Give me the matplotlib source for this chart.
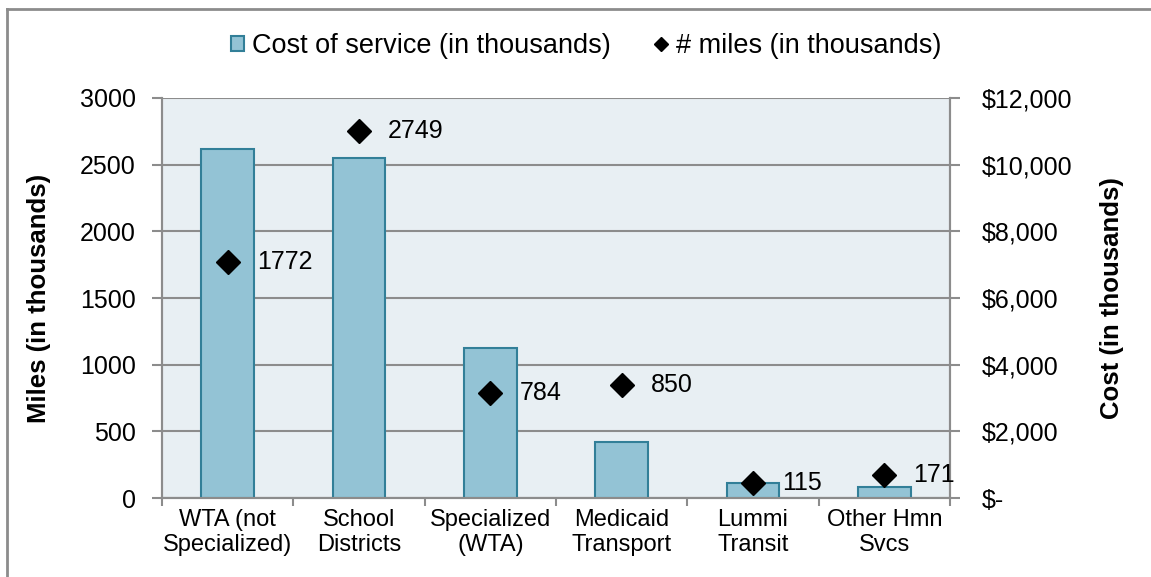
import matplotlib
matplotlib.use("Agg")
import matplotlib.pyplot as plt
from matplotlib.lines import Line2D
from matplotlib.patches import Patch
from matplotlib.ticker import FuncFormatter

plt.rcParams["font.family"] = ["Liberation Sans", "DejaVu Sans"]

categories = ["WTA (not\nSpecialized)", "School\nDistricts", "Specialized\n(WTA)",
              "Medicaid\nTransport", "Lummi\nTransit", "Other Hmn\nSvcs"]
cost_thousands = [10470, 10190, 4500, 1680, 440, 340]
miles_thousands = [1772, 2749, 784, 850, 115, 171]

BAR_FILL = "#93c3d5"
BAR_EDGE = "#327f98"
GRID = "#8c8c8c"
PLOT_BG = "#e8eff3"
FS = 17
NUM_FS = 18

fig = plt.figure(figsize=(11.51, 5.77), dpi=100)
W, H = 1151, 577
rect = [162 / W, (H - 498) / H, (950 - 162) / W, 400 / H]

ax_miles = fig.add_axes(rect)
ax_cost = ax_miles.twinx()
ax_miles.set_zorder(2)
ax_miles.patch.set_visible(False)
ax_cost.set_zorder(1)
ax_cost.patch.set_visible(True)
ax_cost.set_facecolor(PLOT_BG)

x = list(range(len(categories)))

# cost bars on the right-hand scale
ax_cost.bar(x, cost_thousands, width=0.4, color=BAR_FILL, edgecolor=BAR_EDGE,
            linewidth=1.5, zorder=3)
ax_cost.set_ylim(0, 12000)
ax_cost.set_yticks(range(0, 12001, 2000))
ax_cost.yaxis.set_major_formatter(
    FuncFormatter(lambda v, _: "$-" if v == 0 else f"${v:,.0f}"))
ax_cost.grid(axis="y", color=GRID, linewidth=1.5, zorder=0)
ax_cost.set_axisbelow(True)

# miles markers on the left-hand scale
ax_miles.plot(x, miles_thousands, linestyle="none", marker="D", markersize=12,
              color="black")
for xi, m in zip(x, miles_thousands):
    ax_miles.annotate(f"{m}", (xi, m), xytext=(21, 0), textcoords="offset points",
                      ha="left", va="center", fontsize=NUM_FS, annotation_clip=False)
ax_miles.set_ylim(0, 3000)
ax_miles.set_yticks(range(0, 3001, 500))
ax_miles.set_xlim(-0.5, len(categories) - 0.5)

ax_miles.set_xticks(x)
ax_miles.set_xticklabels(categories, fontsize=FS, linespacing=1.15)
ax_miles.set_xticks([i - 0.5 for i in range(len(categories) + 1)], minor=True)
ax_miles.tick_params(axis="x", which="major", length=0, pad=8)
ax_miles.tick_params(axis="x", which="minor", length=6, width=1.5, color=GRID)
ax_miles.tick_params(axis="y", length=7, width=1.5, color=GRID, pad=12, labelsize=NUM_FS)
ax_cost.tick_params(axis="y", length=7, width=1.5, color=GRID, pad=16, labelsize=NUM_FS)

for a in (ax_miles, ax_cost):
    a.spines["top"].set_visible(False)
    for side in ("left", "right", "bottom"):
        a.spines[side].set_color(GRID)
        a.spines[side].set_linewidth(1.5)

ax_miles.set_ylabel("Miles (in thousands)", fontsize=18.5, fontweight="bold")
ax_miles.yaxis.set_label_coords(-0.141, 0.5)
ax_cost.set_ylabel("Cost (in thousands)", fontsize=18.5, fontweight="bold")
ax_cost.yaxis.set_label_coords(1.19, 0.5)

handles = [
    Patch(facecolor=BAR_FILL, edgecolor=BAR_EDGE, linewidth=1.5,
          label="Cost of service (in thousands)"),
    Line2D([], [], linestyle="none", marker="D", markersize=7, color="black",
           label="# miles (in thousands)"),
]
fig.legend(handles=handles, loc="center", bbox_to_anchor=(586 / W, 1 - 46 / H),
           ncol=2, frameon=False, fontsize=19.5, handlelength=0.5, handleheight=0.5,
           handletextpad=0.3, columnspacing=1.6)

# outer chart border, running off the right and bottom edges
fig.add_artist(Line2D([7 / W, 1.0], [1 - 9 / H, 1 - 9 / H], color=GRID, linewidth=2))
fig.add_artist(Line2D([7 / W, 7 / W], [0.0, 1 - 9 / H], color=GRID, linewidth=2))

fig.savefig("out.png", dpi=100)
